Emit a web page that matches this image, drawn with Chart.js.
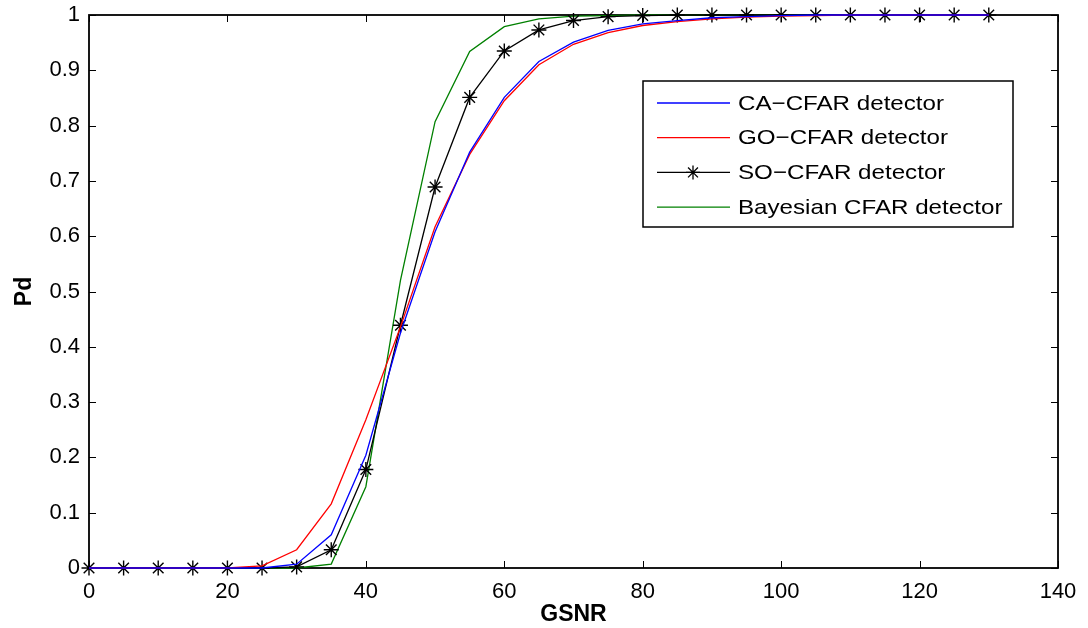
<!DOCTYPE html>
<html>
<head>
<meta charset="utf-8">
<script src="https://cdn.jsdelivr.net/npm/chart.js@4/dist/chart.umd.min.js"></script>
<style>
  html, body { margin: 0; padding: 0; background: #fff; }
  #wrap { width: 1088px; height: 628px; }
</style>
</head>
<body>
<div id="wrap"><canvas id="chart" width="1088" height="628"></canvas></div>
<script>
// GSNR sweep, 0..130 in steps of 5
const gsnr = [0, 5, 10, 15, 20, 25, 30, 35, 40, 45, 50, 55, 60, 65, 70, 75, 80, 85, 90, 95, 100, 105, 110, 115, 120, 125, 130]

const caCfar = [0, 0, 0, 0, 0, 0, 0.007, 0.06, 0.204, 0.425, 0.608, 0.752, 0.851, 0.916, 0.951, 0.972, 0.984, 0.99, 0.995, 0.997, 0.999, 1, 1, 1, 1, 1, 1]
const goCfar = [0, 0, 0, 0, 0, 0.004, 0.033, 0.116, 0.268, 0.436, 0.617, 0.748, 0.845, 0.91, 0.947, 0.968, 0.981, 0.988, 0.993, 0.996, 0.998, 0.999, 1, 1, 1, 1, 1]
const soCfar = [0, 0, 0, 0, 0, 0, 0.002, 0.033, 0.178, 0.439, 0.689, 0.851, 0.935, 0.973, 0.99, 0.997, 0.999, 1, 1, 1, 1, 1, 1, 1, 1, 1, 1]
const bayesCfar = [0, 0, 0, 0, 0, 0, 0, 0.007, 0.147, 0.52, 0.807, 0.934, 0.979, 0.993, 0.998, 0.999, 1, 1, 1, 1, 1, 1, 1, 1, 1, 1, 1]

const seriesNames = ['CA\u2212CFAR detector', 'GO\u2212CFAR detector', 'SO\u2212CFAR detector', 'Bayesian CFAR detector']
const xTicks = [0, 20, 40, 60, 80, 100, 120, 140]
const yTicks = [0, 0.1, 0.2, 0.3, 0.4, 0.5, 0.6, 0.7, 0.8, 0.9, 1]

const FONT = '"Liberation Sans", Arial, Helvetica, sans-serif'

function toPoints(values) {
  return gsnr.map((g, i) => ({ x: g, y: values[i] }))
}

function makeSet(label, values, color, marker) {
  return {
    label: label,
    data: toPoints(values),
    borderColor: color,
    backgroundColor: color,
    borderWidth: 1.3,
    pointStyle: marker ? 'star' : false,
    pointRadius: marker ? 7.5 : 0,
    pointBorderWidth: 1.4,
    tension: 0,
    clip: false
  }
}

// box around the axes plus inward tick marks on all four sides (drawn under the lines)
const framePlugin = {
  id: 'frame',
  beforeDatasetsDraw(chart) {
    const { ctx, chartArea: a, scales } = chart
    const len = 7
    ctx.save()
    ctx.strokeStyle = '#000'
    ctx.lineWidth = 1
    ctx.beginPath()
    xTicks.forEach(v => {
      const px = Math.round(scales.x.getPixelForValue(v)) + 0.5
      ctx.moveTo(px, a.bottom); ctx.lineTo(px, a.bottom - len)
      ctx.moveTo(px, a.top); ctx.lineTo(px, a.top + len)
    })
    yTicks.forEach(v => {
      const py = Math.round(scales.y.getPixelForValue(v)) + 0.5
      ctx.moveTo(a.left, py); ctx.lineTo(a.left + len, py)
      ctx.moveTo(a.right, py); ctx.lineTo(a.right - len, py)
    })
    ctx.stroke()
    ctx.lineWidth = 1.8
    ctx.strokeRect(a.left, a.top, a.right - a.left, a.bottom - a.top)
    ctx.restore()
  }
}

// MATLAB-style legend box in the upper right of the axes
const boxLegend = {
  id: 'boxLegend',
  afterDraw(chart) {
    const ctx = chart.ctx
    const x0 = 643, y0 = 81, w = 370, h = 146
    ctx.save()
    ctx.fillStyle = '#fff'
    ctx.fillRect(x0, y0, w, h)
    ctx.strokeStyle = '#000'
    ctx.lineWidth = 1.5
    ctx.strokeRect(x0, y0, w, h)
    ctx.textBaseline = 'middle'
    chart.data.datasets.forEach((ds, i) => {
      const y = y0 + 22 + i * 34.7
      ctx.strokeStyle = ds.borderColor
      ctx.lineWidth = 1.3
      ctx.beginPath()
      ctx.moveTo(657, y); ctx.lineTo(730, y)
      ctx.stroke()
      if (ds.pointStyle) {
        Chart.helpers.drawPoint(ctx, { pointStyle: ds.pointStyle, radius: 7, rotation: 0, borderWidth: 1.3 }, 693, y)
      }
      // legend text is set a little wider than the tick labels
      ctx.save()
      ctx.translate(738, y + 1)
      ctx.scale(1.15, 1)
      ctx.font = '21px ' + FONT
      ctx.fillStyle = '#000'
      ctx.fillText(ds.label, 0, 0)
      ctx.restore()
    })
    ctx.restore()
  }
}

const chart = new Chart(document.getElementById('chart'), {
  type: 'line',
  data: {
    datasets: [
      makeSet(seriesNames[0], caCfar, '#0000ff', false),
      makeSet(seriesNames[1], goCfar, '#ff0000', false),
      makeSet(seriesNames[2], soCfar, '#000000', true),
      makeSet(seriesNames[3], bayesCfar, '#008000', false)
    ]
  },
  options: {
    responsive: false,
    animation: false,
    layout: { padding: { top: 15, right: 30, left: 0, bottom: 0 } },
    plugins: {
      legend: { display: false },
      tooltip: { enabled: false }
    },
    scales: {
      x: {
        type: 'linear',
        min: 0,
        max: 140,
        afterBuildTicks: s => { s.ticks = xTicks.map(v => ({ value: v })) },
        afterFit: s => { s.height = 60 },
        grid: { display: false },
        border: { display: false },
        ticks: { color: '#000', font: { family: FONT, size: 22 }, padding: 3, maxRotation: 0 },
        title: { display: true, text: 'GSNR', color: '#000', font: { family: FONT, size: 23, weight: 'bold' }, padding: { top: 3, bottom: 0 } }
      },
      y: {
        min: 0,
        max: 1,
        afterBuildTicks: s => { s.ticks = yTicks.map(v => ({ value: v })) },
        afterFit: s => { s.width = 89 },
        grid: { display: false },
        border: { display: false },
        ticks: { color: '#000', font: { family: FONT, size: 22 }, padding: 1, callback: v => String(Math.round(v * 10) / 10) },
        title: { display: true, text: 'Pd', color: '#000', font: { family: FONT, size: 23, weight: 'bold' }, padding: { top: 11, bottom: 0 } }
      }
    }
  },
  plugins: [framePlugin, boxLegend]
})
</script>
</body>
</html>
